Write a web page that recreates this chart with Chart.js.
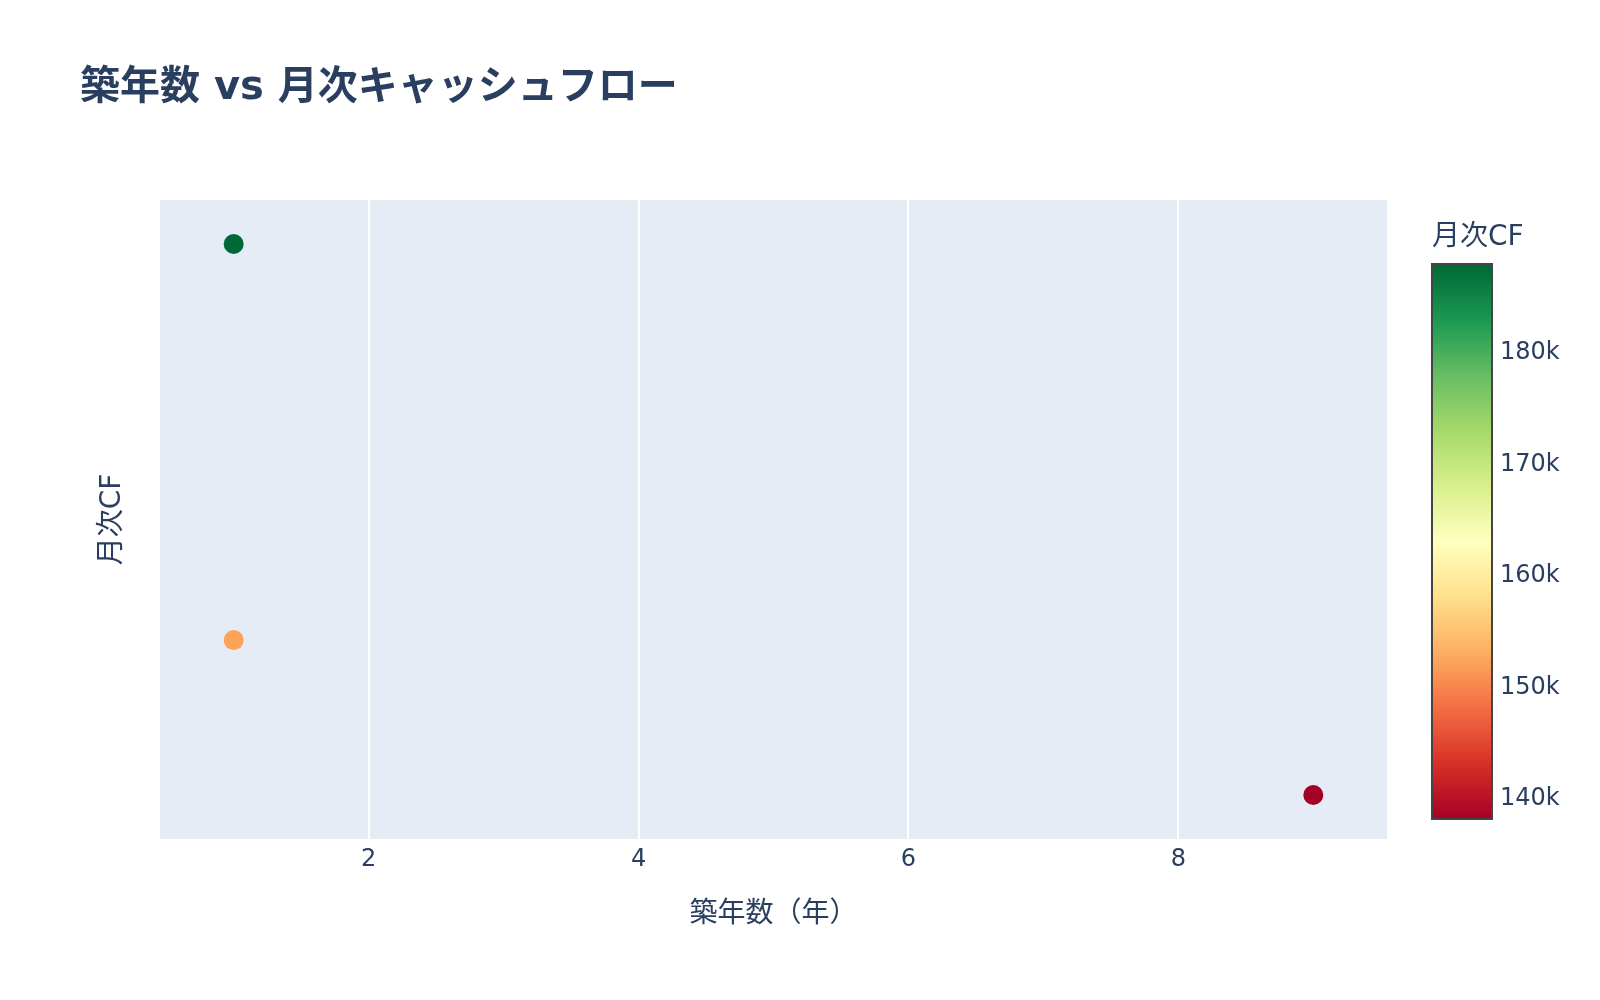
<!DOCTYPE html>
<html lang="ja">
<head>
<meta charset="utf-8">
<title>築年数 vs 月次キャッシュフロー</title>
<script src="https://cdn.jsdelivr.net/npm/chart.js@4.4.1/dist/chart.umd.min.js"></script>
<style>
  html, body { margin: 0; padding: 0; background: #ffffff; }
  #wrap { width: 1600px; height: 1000px; }
</style>
</head>
<body>
<div id="wrap"><canvas id="chart" width="1600" height="1000"></canvas></div>
<script>
// 築年数 vs 月次CF — plotly風の散布図 + カラーバー

const AGE_YEARS = [1, 1, 9];
const MONTHLY_CF = [187900, 152100, 138100];
const X_TICKS = [2, 4, 6, 8];
const CB_TICKS = [140000, 150000, 160000, 170000, 180000];
const X_RANGE = [0.454, 9.546];
const Y_RANGE = [134120, 191880];

// RdYlGn (低 → 高)
const RDYLGN = [
    [165, 0, 38], [215, 48, 39], [244, 109, 67], [253, 174, 97], [254, 224, 139],
    [255, 255, 191], [217, 239, 139], [166, 217, 106], [102, 189, 99], [26, 152, 80], [0, 104, 55],
];

const TEXT = '#2a3f5f';
const PLOT_BG = '#E5ECF6';
const FONT = "'DejaVu Sans', 'Noto Sans CJK JP', sans-serif";

const C_MIN = Math.min(...MONTHLY_CF);
const C_MAX = Math.max(...MONTHLY_CF);

function colorAt(t) {
    t = Math.max(0, Math.min(1, t));
    const pos = t * (RDYLGN.length - 1);
    const i = Math.min(Math.floor(pos), RDYLGN.length - 2);
    const f = pos - i;
    const a = RDYLGN[i], b = RDYLGN[i + 1];
    const c = a.map((v, k) => Math.round(v + (b[k] - v) * f));
    return `rgb(${c[0]}, ${c[1]}, ${c[2]})`;
}

function colorFor(v) {
    return colorAt((v - C_MIN) / (C_MAX - C_MIN));
}

/** プロット領域の背景 */
const plotBg = {
    id: 'plotBg',
    beforeDraw(chart) {
        const { ctx, chartArea: a } = chart;
        ctx.save();
        ctx.fillStyle = PLOT_BG;
        ctx.fillRect(a.left, a.top, a.right - a.left, a.bottom - a.top);
        ctx.restore();
    },
};

/** タイトルとカラーバー */
const overlay = {
    id: 'overlay',
    afterDraw(chart) {
        const { ctx } = chart;
        ctx.save();

        // タイトル
        ctx.fillStyle = TEXT;
        ctx.font = `bold 40px ${FONT}`;
        ctx.textAlign = 'left';
        ctx.textBaseline = 'middle';
        ctx.fillText('築年数 vs 月次キャッシュフロー', 80, 89);

        // カラーバー
        const bx = 1432, bw = 60, top = 264, bottom = 819;
        const grad = ctx.createLinearGradient(0, bottom, 0, top);
        RDYLGN.forEach((c, i) => {
            grad.addColorStop(i / (RDYLGN.length - 1), `rgb(${c[0]}, ${c[1]}, ${c[2]})`);
        });
        ctx.fillStyle = grad;
        ctx.fillRect(bx, top, bw, bottom - top);
        ctx.strokeStyle = '#444444';
        ctx.lineWidth = 2;
        ctx.strokeRect(bx, top, bw, bottom - top);

        const toY = (v) => bottom - (v - C_MIN) / (C_MAX - C_MIN) * (bottom - top);
        ctx.fillStyle = TEXT;
        ctx.font = `24px ${FONT}`;
        ctx.textBaseline = 'middle';
        CB_TICKS.forEach((v) => {
            ctx.fillText(`${v / 1000}k`, 1500, toY(v) + 1);
        });

        ctx.font = `28px ${FONT}`;
        ctx.fillText('月次CF', 1432, 238);
        ctx.restore();
    },
};

const ctx = document.getElementById('chart').getContext('2d');

new Chart(ctx, {
    type: 'scatter',
    data: {
        datasets: [{
            label: '月次CF',
            data: AGE_YEARS.map((x, i) => ({ x, y: MONTHLY_CF[i] })),
            pointBackgroundColor: MONTHLY_CF.map(colorFor),
            pointBorderWidth: 0,
            pointRadius: 10,
            pointHoverRadius: 10,
        }],
    },
    options: {
        responsive: false,
        animation: false,
        devicePixelRatio: 1,
        layout: {
            padding: { top: 200, right: 213, bottom: 61, left: 80 },
        },
        plugins: {
            legend: { display: false },
            tooltip: { enabled: false },
        },
        scales: {
            x: {
                type: 'linear',
                min: X_RANGE[0],
                max: X_RANGE[1],
                afterBuildTicks: (scale) => {
                    scale.ticks = X_TICKS.map((value) => ({ value }));
                },
                afterFit: (scale) => { scale.height = 100; },
                border: { display: false },
                grid: { color: '#ffffff', lineWidth: 2, drawTicks: false },
                ticks: {
                    color: TEXT,
                    padding: 6,
                    font: { family: FONT, size: 24 },
                },
                title: {
                    display: true,
                    text: '築年数（年）',
                    color: TEXT,
                    font: { family: FONT, size: 28 },
                    padding: { bottom: 7 },
                },
            },
            y: {
                type: 'linear',
                min: Y_RANGE[0],
                max: Y_RANGE[1],
                afterFit: (scale) => { scale.width = 80; },
                border: { display: false },
                grid: { display: false },
                ticks: { display: false },
                title: {
                    display: true,
                    text: '月次CF',
                    color: TEXT,
                    font: { family: FONT, size: 28 },
                    padding: { top: 16 },
                },
            },
        },
    },
    plugins: [plotBg, overlay],
});
</script>
</body>
</html>
